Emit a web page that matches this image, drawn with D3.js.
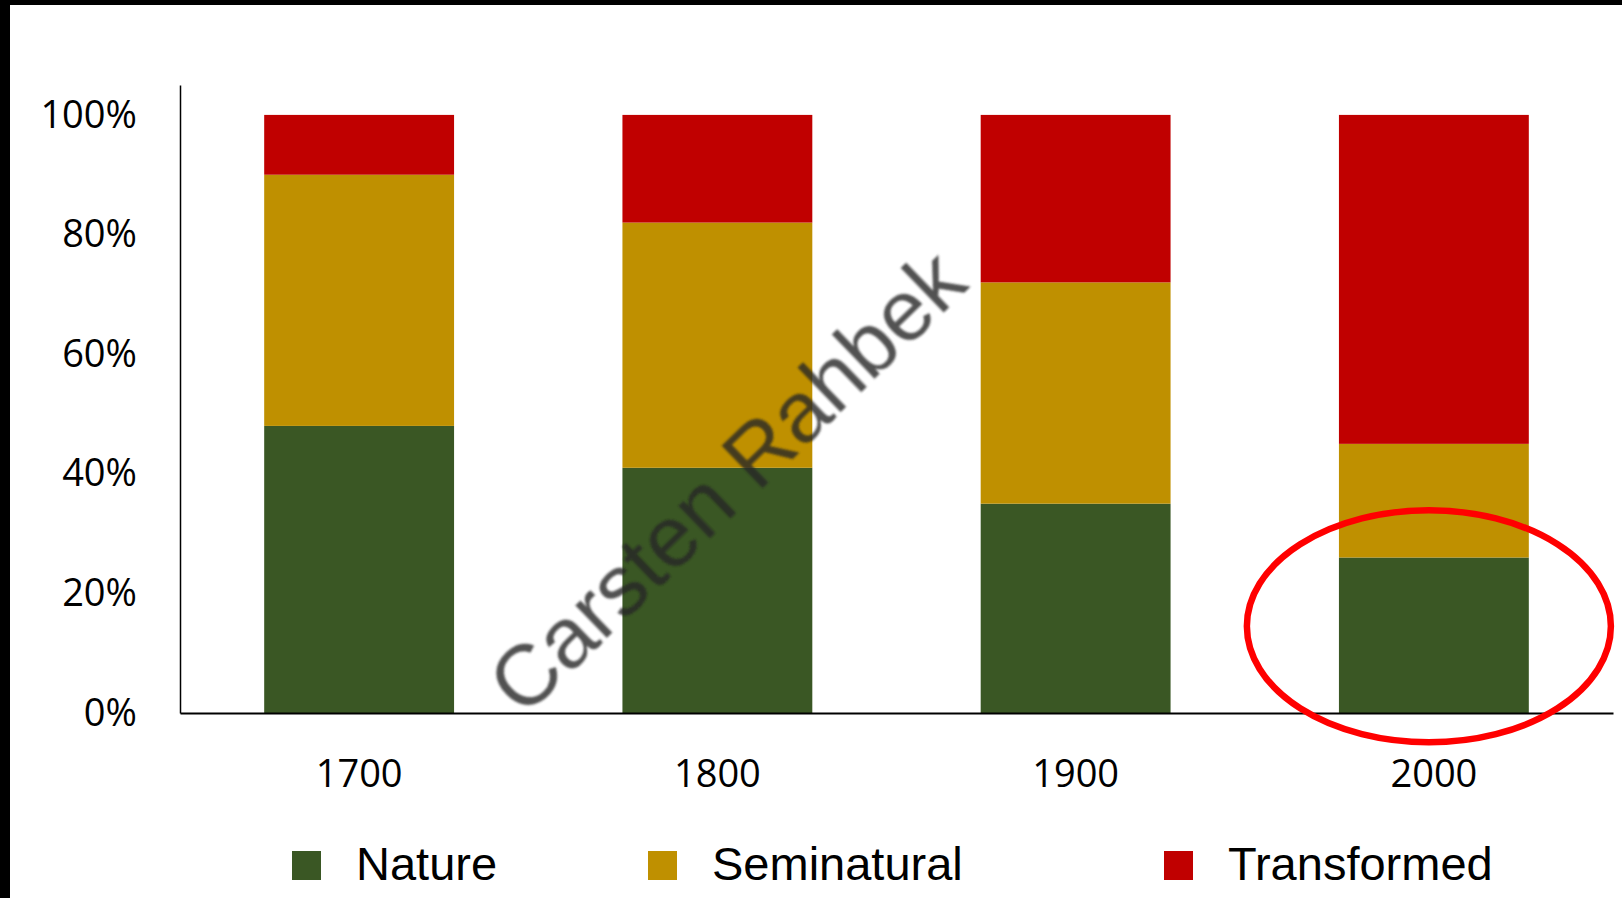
<!DOCTYPE html>
<html>
<head>
<meta charset="utf-8">
<script src="https://cdn.jsdelivr.net/npm/d3@7"></script>
<style>
  body { margin: 0; background: #fff; }
  svg { display: block; }
</style>
</head>
<body>
<div id="chart"></div>
<script>
var years = ["1700", "1800", "1900", "2000"];
var seriesNames = ["Nature", "Seminatural", "Transformed"];
var nature = [0.48, 0.41, 0.35, 0.26];
var seminatural = [0.42, 0.41, 0.37, 0.19];
var transformed = [0.10, 0.18, 0.28, 0.55];
var yTicks = [0, 0.2, 0.4, 0.6, 0.8, 1.0];
var colors = ["#3a5724", "#bf9000", "#c00000"];

(function() {
  "use strict";

  var width = 1622, height = 898;
  var svg = d3.select("#chart").append("svg")
      .attr("width", width)
      .attr("height", height);

  // black frame bits on the left and top edges
  svg.append("rect").attr("x", 0).attr("y", 0).attr("width", width).attr("height", 5).attr("fill", "#000");
  svg.append("rect").attr("x", 0).attr("y", 0).attr("width", 10).attr("height", height).attr("fill", "#000");

  var rows = years.map(function(y, i) {
    return {year: y, Nature: nature[i], Seminatural: seminatural[i], Transformed: transformed[i]};
  });

  var x = d3.scaleBand().domain(years).range([180, 1613]).paddingInner(0.47).paddingOuter(0.235);
  var y = d3.scaleLinear().domain([0, 1.05]).range([713, 85]);

  var stack = d3.stack().keys(seriesNames);
  var layers = stack(rows);

  var g = svg.append("g");
  g.selectAll("g.layer")
    .data(layers)
    .enter().append("g")
      .attr("class", "layer")
      .attr("fill", function(d, i) { return colors[i]; })
    .selectAll("rect")
    .data(function(d) { return d; })
    .enter().append("rect")
      .attr("x", function(d) { return x(d.data.year); })
      .attr("width", x.bandwidth())
      .attr("y", function(d) { return y(d[1]); })
      .attr("height", function(d) { return y(d[0]) - y(d[1]); });

  // axes
  var yAxis = svg.append("g")
      .attr("transform", "translate(180,0)")
      .call(d3.axisLeft(y).tickValues(yTicks).tickSize(0).tickPadding(43).tickFormat(d3.format(".0%")));
  yAxis.select(".domain").attr("stroke", "#000").attr("stroke-width", 1.5);
  yAxis.selectAll("text")
      .style("font-family", "'Open Sans', sans-serif")
      .style("font-size", "38px")
      .attr("fill", "#000");

  var xAxis = svg.append("g")
      .attr("transform", "translate(0,713)")
      .call(d3.axisBottom(x).tickSize(0).tickPadding(47));
  xAxis.select(".domain").attr("stroke", "#000").attr("stroke-width", 2);
  xAxis.selectAll("text")
      .style("font-family", "'Open Sans', sans-serif")
      .style("font-size", "38px")
      .attr("fill", "#000");

  // watermark
  var defs = svg.append("defs");
  defs.append("filter").attr("id", "soft")
    .append("feGaussianBlur").attr("stdDeviation", 1.2);
  svg.append("text")
      .attr("transform", "translate(731,486) rotate(-44)")
      .attr("text-anchor", "middle")
      .attr("dominant-baseline", "middle")
      .attr("filter", "url(#soft)")
      .style("font-family", "'Liberation Sans', Arial, sans-serif")
      .style("font-size", "86px")
      .attr("fill", "#262626")
      .attr("fill-opacity", 0.8)
      .text("Carsten Rahbek");

  // highlight ring round the 2000 bar
  svg.append("ellipse")
      .attr("cx", x("2000") + x.bandwidth() / 2 - 5)
      .attr("cy", y(0.145))
      .attr("rx", 182)
      .attr("ry", 116)
      .attr("fill", "none")
      .attr("stroke", "#ff0000")
      .attr("stroke-width", 6.5);

  // legend
  var legendX = [292, 648, 1164];
  var legend = svg.append("g").selectAll("g")
    .data(seriesNames)
    .enter().append("g")
      .attr("transform", function(d, i) { return "translate(" + legendX[i] + ",851)"; });
  legend.append("rect")
      .attr("width", 29).attr("height", 29)
      .attr("fill", function(d, i) { return colors[i]; });
  legend.append("text")
      .attr("x", 64)
      .attr("y", 29)
      .style("font-family", "'Liberation Sans', Arial, sans-serif")
      .style("font-size", "47px")
      .attr("fill", "#000")
      .text(function(d) { return d; });
})();
</script>
</body>
</html>
